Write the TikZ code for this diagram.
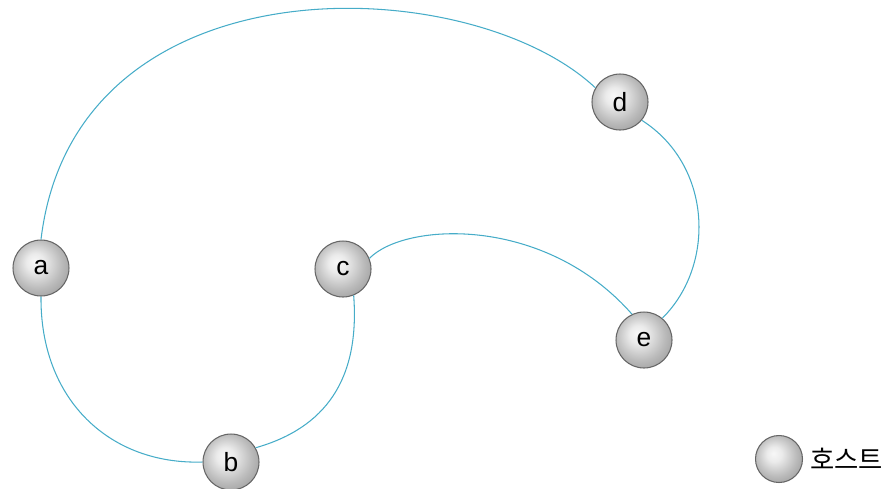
\documentclass[tikz,border=0pt]{standalone}
\usepackage{fontspec}
\setmainfont{Liberation Sans}
\newfontfamily\kofont{Noto Sans CJK KR}
\definecolor{linkblue}{RGB}{70,172,200}
\pgfdeclareradialshading{hostball}{\pgfpoint{-6bp}{6bp}}{%
  color(0bp)=(black!3); color(8bp)=(black!8); color(22bp)=(black!27);
  color(30bp)=(black!36); color(50bp)=(black!36)}
\tikzset{
  host/.style={circle,draw=black!60,line width=0.6pt,shading=hostball,
    minimum size=1.12cm,inner sep=0pt,font=\fontsize{15}{17}\selectfont},
  link/.style={draw=linkblue,line width=0.6pt}
}
\begin{document}
\begin{tikzpicture}[x=0.02cm,y=-0.02cm]
    \useasboundingbox (0,0) rectangle (882,488);
    % Hosts
    \foreach \name/\x/\y in {a/41/268,b/231/462,c/343/269,d/620/102,e/644/340}
        \node[host] (\name) at (\x,\y) {\name};
    % Links
    \draw[link] (a.north) .. controls (75,-45) and (470,-30) .. (d.150);
    \draw[link] (d.-40) .. controls (712,165) and (716,265) .. (e.50);
    \draw[link] (c.22) .. controls (405,222) and (545,215) .. (e.115);
    \draw[link] (a.south) .. controls (40,400) and (110,465) .. (b.west);
    \draw[link] (b.30) .. controls (325,428) and (360,380) .. (c.-68);
    % Legend
    \node[host,minimum size=0.94cm] (key) at (779,459) {};
    \node[anchor=west,inner sep=0pt,font=\kofont\fontsize{15}{17}\selectfont]
        (keytext) at ([xshift=4]key.east) {호스트};
\end{tikzpicture}
\end{document}
